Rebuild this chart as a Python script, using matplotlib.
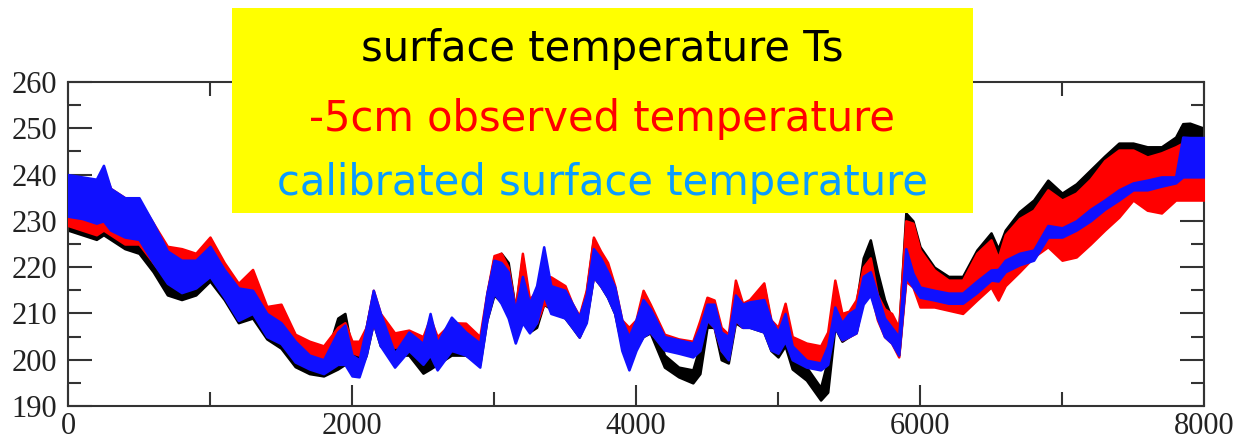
import matplotlib
matplotlib.use("Agg")
import matplotlib.pyplot as plt
from matplotlib.patches import Rectangle
from matplotlib.ticker import MultipleLocator

# time axis and band edges (low/high)
t = [0, 100, 200, 250, 300, 400, 500, 600, 700, 800, 900, 1000, 1100, 1200, 1300,
     1400, 1500, 1600, 1700, 1800, 1900, 1950, 2000, 2050, 2100, 2150, 2200, 2300,
     2400, 2500, 2550, 2600, 2700, 2800, 2900, 2950, 3000, 3050, 3100, 3150, 3200,
     3250, 3300, 3350, 3400, 3500, 3550, 3600, 3650, 3700, 3750, 3800, 3850, 3900,
     3950, 4000, 4050, 4100, 4200, 4300, 4400, 4450, 4500, 4550, 4600, 4650, 4700,
     4750, 4800, 4900, 4950, 5000, 5050, 5100, 5200, 5300, 5350, 5400, 5450, 5500,
     5550, 5600, 5650, 5700, 5750, 5800, 5850, 5900, 5950, 6000, 6100, 6200, 6300,
     6400, 6500, 6550, 6600, 6700, 6800, 6900, 7000, 7100, 7200, 7300, 7400, 7500,
     7600, 7700, 7800, 7850, 7900, 8000]

ts_lo = [228, 227, 226, 227, 226, 224, 223, 219, 214, 213, 214, 217, 213, 208, 209,
         204.5, 202.5, 198.5, 197, 196.5, 198, 199, 198, 197.5, 201, 208, 203, 201,
         201, 197.1, 198, 199, 201, 201, 199, 208.6, 214, 212.5, 210, 205, 209,
         206, 207, 212, 211, 209, 207, 204.9, 208.5, 218, 216, 213.5, 210, 203,
         202, 202.7, 205, 205.8, 198.4, 196.3, 195, 197, 207, 207, 200, 199.3, 208,
         207, 207, 206, 202, 200.6, 203, 198, 195.6, 191.3, 193, 207, 204, 205,
         206, 213.5, 216, 210, 206, 204, 201, 218, 217, 213, 213, 212, 212,
         214, 217, 216, 217, 220, 223, 226, 224, 225, 228, 231, 233, 236,
         235, 234, 237, 238, 238, 238]
ts_hi = [238, 238, 237, 240, 236, 234, 233, 228, 222, 220, 220, 224, 219, 214, 214,
         209.5, 207, 203, 200.5, 199, 209, 210, 202, 201.5, 207, 214.5, 209.5, 204.5,
         205, 201.4, 208, 203, 206, 206, 203, 214, 222, 223, 221, 211, 222,
         212, 214, 217, 217, 215, 212, 209, 214.5, 226, 222.5, 220, 215.5, 208,
         206, 208, 214, 211, 201, 198.4, 197.8, 203, 212, 212, 205, 204, 216,
         212, 212, 216, 208, 205.8, 210, 202, 198.4, 194, 200, 213, 209, 210,
         212, 222, 225.9, 219, 213, 209, 206, 231.7, 230, 224.4, 220, 218, 218,
         223.7, 227.4, 224, 228, 232, 234.5, 238.8, 236, 238, 241, 244, 246.8, 246.8,
         246, 246, 248.1, 251, 251.1, 250]

obs_lo = [229, 228, 227, 228, 227, 225, 225, 221, 217, 216, 217, 219, 215, 211, 212,
          207, 207.5, 202, 200.6, 200.5, 201, 202, 201.5, 201, 202, 208, 204, 202.7,
          203, 202, 202, 201, 202, 202, 201, 209, 215, 213, 210, 205, 209,
          207, 208, 212, 211.5, 210, 207.5, 205, 209, 218, 216, 214, 210.5, 203,
          203, 203, 206, 206, 202.5, 201.6, 201, 203, 208.6, 207, 202, 200.5, 208.6,
          207, 207.5, 207, 202.5, 201.5, 205, 201.4, 199.9, 199.5, 200, 210.7, 204.3, 205,
          205.8, 213.5, 215, 208.6, 205, 203.6, 200.6, 217, 215.7, 211.4, 211.4, 210.7, 210,
          212.9, 215.7, 212.9, 216, 219, 222.2, 224.4, 221.5, 222.2, 225, 228, 230.8, 234.5,
          232.3, 231.7, 234.5, 234.5, 234.5, 234.5]
obs_hi = [239, 238, 237, 241, 237, 235, 234.5, 229.5, 224.5, 224, 223, 226.5, 221, 216.5, 219.5,
          211.5, 212, 205.5, 204, 203, 207, 208, 204, 204, 207, 215, 210, 205.8,
          206.4, 205, 209, 205, 208, 207.9, 205, 214.4, 222.5, 223, 220, 211, 223,
          213, 215, 218, 217.9, 216, 212.2, 209.5, 215, 226.5, 223.5, 221, 216, 208.6,
          207, 208.6, 215, 212, 205.5, 204.5, 204, 208.5, 213.5, 212.9, 207, 205.5, 217.2,
          212.2, 213, 216.6, 208.6, 207, 212.2, 205, 203.6, 203, 206, 217.2, 210, 210.5,
          212.9, 220, 222, 214, 211, 210, 207, 230, 229.5, 223.7, 219.4, 217.2, 217.2,
          223, 225.9, 222, 227, 230.5, 232.3, 236.7, 234.5, 236, 239, 243, 245.3, 245.3,
          243.8, 244.7, 246, 246.8, 246.8, 246]

cal_lo = [231, 230.5, 229.5, 230, 228, 226.5, 226, 221, 216.5, 214.5, 215.5, 218, 213.5, 208.5, 210,
          205, 203.5, 199.5, 198, 197, 199, 199, 196.5, 196.3, 201, 208, 203, 198.4,
          202, 199, 201, 197.8, 202, 201, 198.4, 208.6, 214.4, 212.2, 209, 203.6, 208,
          205.8, 208, 214, 210, 209, 207, 204.9, 208, 217.9, 216, 213.5, 210, 202,
          197.8, 202, 205, 206, 202.1, 201.4, 200.6, 202, 208.6, 207, 202, 200, 208.6,
          207, 207, 206, 202.1, 201.4, 204, 200, 198.4, 197.8, 199, 207, 204.3, 205,
          205.8, 212, 214, 209, 205, 203.6, 201, 218, 215.7, 213.5, 212.9, 212.2, 212.2,
          214.5, 217.2, 217, 219, 220.5, 221.5, 226.5, 226.5, 228, 230, 232.5, 234.5, 236.7,
          236.7, 237.5, 238.2, 239.5, 239.5, 239.5]
cal_hi = [240, 239.5, 239, 242, 237, 235, 235, 229.5, 223.5, 221.5, 221.5, 224.5, 219.5, 215.5, 215,
          210, 208, 204, 201, 200, 206, 207.5, 201, 200, 207, 215, 210, 201.4,
          206, 203.5, 210, 203.6, 209.2, 206, 203.6, 214.4, 221.5, 221, 219, 210.7, 218,
          212.2, 216, 224.4, 216, 215, 212.2, 209.2, 214, 224, 222, 219, 215.7, 208.6,
          205, 208.6, 213, 211, 205, 204.3, 203.6, 207, 212, 212, 206, 205, 214,
          212, 212.5, 213, 208.6, 206, 210, 203, 199.9, 199.3, 203, 211.4, 208, 210,
          211, 218, 219, 214, 209, 207, 205, 224, 218.7, 215.7, 215, 214.4, 214.4,
          217, 219.4, 219.5, 221.5, 223, 223.7, 229, 228.5, 230, 232.5, 234.5, 236.7, 238.2,
          238.8, 239.5, 239.5, 248.1, 248, 248]

legend_lines = ["surface temperature Ts", "-5cm observed temperature",
                "calibrated surface temperature"]
legend_colors = ["black", "#ff0000", "#0a9bff"]

fig = plt.figure(figsize=(12.4, 4.42), dpi=100)
ax = fig.add_axes([0.0548, 0.0814, 0.9162, 0.7331])

ax.fill_between(t, ts_lo, ts_hi, color="black", lw=1.8, zorder=2)
ax.fill_between(t, obs_lo, obs_hi, color="#ff0000", lw=1.8, zorder=3)
ax.fill_between(t, cal_lo, cal_hi, color="#1010ff", lw=1.8, zorder=4)

ax.set_xlim(0, 8000)
ax.set_ylim(190, 260)
ax.xaxis.set_major_locator(MultipleLocator(2000))
ax.xaxis.set_minor_locator(MultipleLocator(1000))
ax.yaxis.set_major_locator(MultipleLocator(10))
ax.yaxis.set_minor_locator(MultipleLocator(5))
ax.tick_params(which="both", direction="in", top=True, right=True, color="#333333", width=1.5)
ax.tick_params(axis="y", which="major", length=17, pad=8)
ax.tick_params(axis="y", which="minor", length=9.5)
ax.tick_params(axis="x", which="major", length=15, pad=4)
ax.tick_params(axis="x", which="minor", length=10)
for lab in ax.get_xticklabels() + ax.get_yticklabels():
    lab.set_fontfamily("Liberation Serif")
    lab.set_fontsize(22)
    lab.set_color("#222222")
for s in ax.spines.values():
    s.set_linewidth(1.5)
    s.set_color("#333333")

# yellow label box on top of the plot
fig.patches.append(Rectangle((0.187, 0.518), 0.5976, 0.4638, transform=fig.transFigure,
                             facecolor="#ffff00", edgecolor="none", zorder=5))
ys = [0.889, 0.731, 0.585]
for txt, c, y in zip(legend_lines, legend_colors, ys):
    fig.text(0.4855, y, txt, color=c, fontsize=30, family="DejaVu Sans",
             ha="center", va="center", zorder=6)

fig.savefig("out.png", dpi=100)
